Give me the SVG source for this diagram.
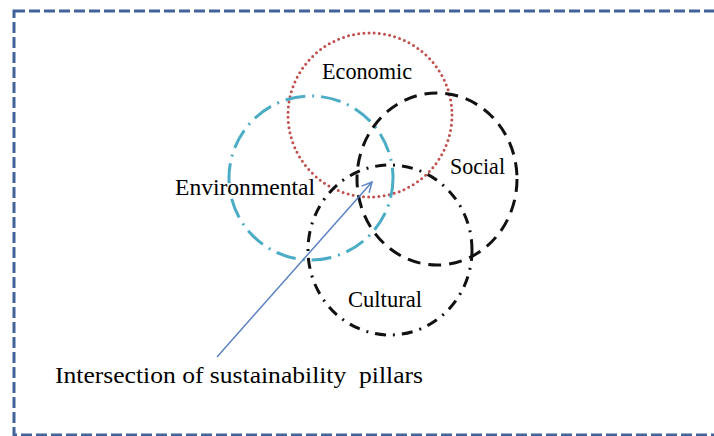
<svg xmlns="http://www.w3.org/2000/svg" width="714" height="436" viewBox="0 0 714 436">
<defs>
<style>
.lbl{font-family:'Liberation Serif','Times New Roman',serif;font-size:23px;fill:#000000}
.ring{fill:none}
</style>
<marker id="arr" viewBox="0 0 12 12" refX="11" refY="6" markerWidth="12" markerHeight="12" markerUnits="userSpaceOnUse" orient="auto">
<path d="M1,1 L11,6 L1,11" fill="none" stroke="#5b82c4" stroke-width="1.5"/>
</marker>
</defs>
<rect width="714" height="436" fill="#ffffff"/>
<rect id="frame" x="14" y="11" width="712" height="424" fill="none" stroke="#41639a" stroke-width="3" stroke-dasharray="11 4"/>
<g id="economic">
<circle class="ring" cx="370" cy="115" r="82" stroke="#c0504d" stroke-width="3" stroke-dasharray="0 5.2" stroke-linecap="round"/>
<text class="lbl" x="322" y="79" textLength="90" lengthAdjust="spacingAndGlyphs">Economic</text>
</g>
<g id="environmental">
<circle class="ring" cx="311" cy="178" r="82" stroke="#4bacc6" stroke-width="3" stroke-dasharray="20 7 2 7"/>
<text class="lbl" x="175" y="195" textLength="140" lengthAdjust="spacingAndGlyphs">Environmental</text>
</g>
<g id="social">
<ellipse class="ring" cx="437" cy="179" rx="80" ry="86" stroke="#111111" stroke-width="3" stroke-dasharray="13 8"/>
<text class="lbl" x="450" y="174" textLength="55" lengthAdjust="spacingAndGlyphs">Social</text>
</g>
<g id="cultural">
<ellipse class="ring" cx="390" cy="250" rx="82" ry="85" stroke="#111111" stroke-width="3" stroke-dasharray="11 7 2 7"/>
<text class="lbl" x="348" y="307" textLength="74" lengthAdjust="spacingAndGlyphs">Cultural</text>
</g>
<g id="connectors">
<line x1="217" y1="357" x2="372" y2="182" stroke="#5b82c4" stroke-width="1.5" marker-end="url(#arr)"/>
</g>
<g id="caption">
<text class="lbl" x="55" y="383" textLength="368" lengthAdjust="spacingAndGlyphs" xml:space="preserve" style="white-space:pre">Intersection of sustainability  pillars</text>
</g>
</svg>
